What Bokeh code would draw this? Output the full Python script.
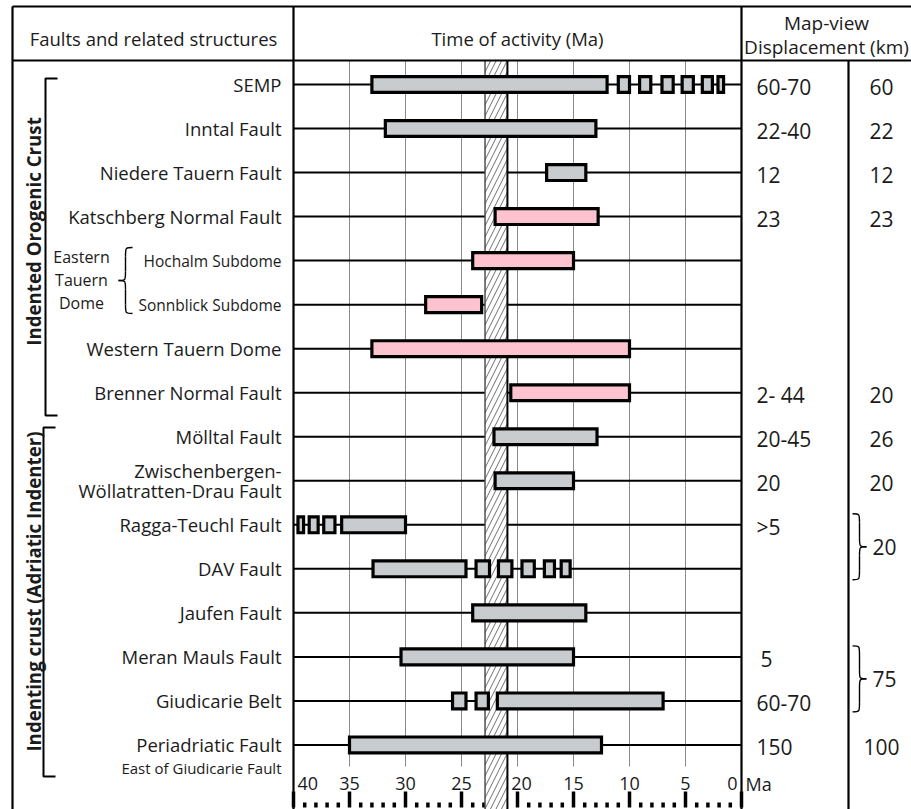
import numpy as np
from bokeh.plotting import figure
from bokeh.models import Range1d, ColumnDataSource
from bokeh.embed import file_html
from bokeh.resources import INLINE
from bokeh.core.properties import value

# ---------------- data ----------------
fault_names = ["SEMP", "Inntal Fault", "Niedere Tauern Fault", "Katschberg Normal Fault",
               "Hochalm Subdome", "Sonnblick Subdome", "Western Tauern Dome",
               "Brenner Normal Fault", "Mölltal Fault", "Zwischenbergen-",
               "Ragga-Teuchl Fault", "DAV Fault", "Jaufen Fault", "Meran Mauls Fault",
               "Giudicarie Belt", "Periadriatic Fault"]
fault_second_line = {9: "Wöllatratten-Drau Fault", 15: "East of Giudicarie Fault"}
fault_style = ["grey", "grey", "grey", "pink", "pink", "pink", "pink", "pink",
               "grey", "grey", "grey", "grey", "grey", "grey", "grey", "grey"]

# activity segments (Ma): index of fault, older limit, younger limit
seg_fault = [0, 0, 0, 0, 0, 0, 0,
             1, 2, 3, 4, 5, 6, 7, 8, 9,
             10, 10, 10, 10,
             11, 11, 11, 11, 11, 11,
             12, 13,
             14, 14, 14,
             15]
seg_old = [33.0, 11.0, 9.1, 7.1, 5.3, 3.5, 2.1,
           31.8, 17.4, 22.0, 24.0, 28.2, 33.0, 20.6, 22.1, 22.0,
           39.6, 38.6, 37.3, 35.7,
           32.9, 23.7, 21.7, 19.6, 17.6, 16.1,
           24.0, 30.4,
           25.8, 23.7, 21.8,
           35.0]
seg_young = [12.0, 10.0, 8.1, 6.1, 4.3, 2.6, 1.6,
             13.0, 13.9, 12.8, 15.0, 23.2, 10.0, 10.0, 12.9, 15.0,
             39.1, 37.8, 36.3, 30.0,
             24.6, 22.5, 20.5, 18.5, 16.7, 15.3,
             13.9, 15.0,
             24.6, 22.6, 7.0,
             12.5]

sync_band = (22.9, 20.9)          # hatched interval (Ma)

disp_range = ["60-70", "22-40", "12", "23", "", "", "", "2- 44", "20-45", "20",
              ">5", "", "", "5", "60-70", "150"]
disp_km = ["60", "22", "12", "23", "", "", "", "20", "26", "20",
           "", "", "", "", "", "100"]
disp_group_first = [10, 13]
disp_group_last = [11, 14]
disp_group_km = ["20", "75"]

group_names = ["Indented Orogenic Crust", "Indenting crust (Adriatic Indenter)"]

grid_ma = [35, 30, 25, 20, 15, 10, 5]
ruler_major = [40, 35, 30, 25, 20, 15, 10, 5, 0]
ruler_labels = ["40", "35", "30", "25", "20", "15", "10", "5", "0"]
ruler_minor = [m for m in range(1, 40) if m % 5 != 0]

# ---------------- layout helpers (reference pixels -> data) ----------------
ROW0, ROW_H = 84.0, 44.03
MA0_PX, PX_PER_MA = 741.0, 11.2
W, H = 911, 809


def X(px):
    return (MA0_PX - px) / PX_PER_MA


def Y(py):
    return (py - ROW0) / ROW_H


FONT = value("Open Sans")
INK = "#1b1b1b"

p = figure(width=W, height=H,
           x_range=Range1d(X(0), X(W)), y_range=Range1d(Y(H), Y(0)),
           output_backend="svg", toolbar_location=None,
           x_axis_location=None, y_axis_location=None,
           min_border=0, outline_line_color=None,
           background_fill_color="white", border_fill_color="white")
p.xgrid.visible = False
p.ygrid.visible = False

rows = list(range(len(fault_names)))

# vertical grid lines
p.segment(x0=grid_ma, y0=[Y(60)] * len(grid_ma), x1=grid_ma, y1=[Y(766)] * len(grid_ma),
          line_color="#8a8a8a", line_width=1)

# row lines
p.segment(x0=[40] * len(rows), y0=rows, x1=[0] * len(rows), y1=rows,
          line_color="black", line_width=2)

# bottom ruler
p.segment(x0=ruler_major, y0=[Y(791)] * len(ruler_major), x1=ruler_major,
          y1=[Y(807)] * len(ruler_major), line_color="black", line_width=3.5, line_cap="butt")
p.segment(x0=ruler_minor, y0=[Y(802)] * len(ruler_minor), x1=ruler_minor,
          y1=[Y(807)] * len(ruler_minor), line_color="black", line_width=3.5, line_cap="butt")

# hatched synchronous band
p.quad(left=[sync_band[0]], right=[sync_band[1]], top=[Y(60)], bottom=[Y(H)],
       fill_color="white", hatch_pattern="/", hatch_color="#6f6f6f", hatch_scale=11,
       hatch_weight=1, line_color=None)
p.segment(x0=[sync_band[0]], y0=[Y(60)], x1=[sync_band[0]], y1=[Y(H)],
          line_color="#444444", line_width=1.4)
p.segment(x0=[sync_band[1]], y0=[Y(60)], x1=[sync_band[1]], y1=[Y(H)],
          line_color="black", line_width=2)

# activity bars
colors = {"grey": "#c9cccf", "pink": "#fec3ce"}
half = 0.18
bars = ColumnDataSource(dict(
    left=seg_old, right=seg_young,
    top=[seg_fault[i] - half for i in range(len(seg_fault))],
    bottom=[seg_fault[i] + half for i in range(len(seg_fault))],
    fill=[colors[fault_style[f]] for f in seg_fault]))
p.quad(left="left", right="right", top="top", bottom="bottom", source=bars,
       fill_color="fill", line_color="black", line_width=3.2, line_join="miter")

# table frame
frame = [[(12, 6), (W, 6)], [(12, 60), (W, 60)], [(12, 6), (12, H)],
         [(293, 6), (293, H)], [(741, 6), (741, H)], [(848, 60), (848, H)]]
p.multi_line(xs=[[X(a[0]), X(b[0])] for a, b in frame],
             ys=[[Y(a[1]), Y(b[1])] for a, b in frame],
             line_color="black", line_width=2.2)

# group brackets on the left
brk = [[(57, 78), (45, 78), (45, 415), (57, 415)],
       [(55, 427), (43, 427), (43, 776), (55, 776)]]
p.multi_line(xs=[[X(q[0]) for q in b] for b in brk], ys=[[Y(q[1]) for q in b] for b in brk],
             line_color="black", line_width=2)


# curly braces
def brace(xe, xt, ytop, ybot):
    xs = (xe + xt) / 2.0
    ym = (ytop + ybot) / 2.0
    q = min(9.0, (ybot - ytop) / 4.0)
    bz = [((xe, ytop), (xs, ytop + q), (xs, ytop), (xs, ytop)),
          ((xs, ym - q), (xt, ym), (xs, ym), (xs, ym)),
          ((xt, ym), (xs, ym + q), (xs, ym), (xs, ym)),
          ((xs, ybot - q), (xe, ybot), (xs, ybot), (xs, ybot))]
    ln = [((xs, ytop + q), (xs, ym - q)), ((xs, ym + q), (xs, ybot - q))]
    return bz, ln


braces = [brace(132, 118, 247, 313)]
for f, l in zip(disp_group_first, disp_group_last):
    ym = ROW0 + ROW_H * (f + l) / 2.0
    braces.append(brace(852, 866, ym - 33, ym + 33))
B = [b for br in braces for b in br[0]]
L = [s for br in braces for s in br[1]]
p.bezier(x0=[X(b[0][0]) for b in B], y0=[Y(b[0][1]) for b in B],
         x1=[X(b[1][0]) for b in B], y1=[Y(b[1][1]) for b in B],
         cx0=[X(b[2][0]) for b in B], cy0=[Y(b[2][1]) for b in B],
         cx1=[X(b[3][0]) for b in B], cy1=[Y(b[3][1]) for b in B],
         line_color="black", line_width=1.4)
p.segment(x0=[X(s[0][0]) for s in L], y0=[Y(s[0][1]) for s in L],
          x1=[X(s[1][0]) for s in L], y1=[Y(s[1][1]) for s in L],
          line_color="black", line_width=1.4)

# ---------------- texts ----------------
# headers
p.text(x=[X(153), X(517)], y=[Y(38)] * 2,
       text=["Faults and related structures", "Time of activity (Ma)"],
       text_font=FONT, text_font_size="18.5px", text_align="center",
       text_baseline="middle", text_color=INK)
p.text(x=[X(826), X(826)], y=[Y(22), Y(46)], text=["Map-view", "Displacement (km)"],
       text_font=FONT, text_font_size="19px", text_align="center",
       text_baseline="middle", text_color=INK)

# fault names
big = [i for i in rows if fault_names[i] not in ("Hochalm Subdome", "Sonnblick Subdome")
       and i != 9]
p.text(x=[X(281)] * len(big), y=[rows[i] for i in big], text=[fault_names[i] for i in big],
       text_font=FONT, text_font_size="18.5px", text_align="right",
       text_baseline="middle", text_color=INK)
p.text(x=[X(281)] * 2, y=[9, 9], text=[fault_names[9], fault_second_line[9]],
       y_offset=[-10, 10], text_font=FONT, text_font_size="18.5px", text_align="right",
       text_baseline="middle", text_color=INK)
p.text(x=[X(281)], y=[15], text=[fault_second_line[15]], y_offset=23,
       text_font=FONT, text_font_size="15px", text_align="right",
       text_baseline="middle", text_color=INK)
p.text(x=[X(281)] * 2, y=[4, 5], text=[fault_names[4], fault_names[5]],
       text_font=FONT, text_font_size="15.5px", text_align="right",
       text_baseline="middle", text_color=INK)
p.text(x=[X(81)] * 3, y=[Y(256), Y(279), Y(302)], text=["Eastern", "Tauern", "Dome"],
       text_font=FONT, text_font_size="16px", text_align="center",
       text_baseline="middle", text_color=INK)

# rotated group labels
p.text(x=[X(33), X(33)], y=[Y(231), Y(591)], text=group_names, angle=np.pi / 2,
       text_font=FONT, text_font_size="18.7px", text_font_style="bold",
       text_align="center", text_baseline="middle", text_color=INK)

# displacement columns
r1 = [i for i in rows if disp_range[i]]
p.text(x=[X(756) if disp_range[i] != "5" else X(760) for i in r1], y=r1,
       text=[disp_range[i] for i in r1], y_offset=2,
       text_font=FONT, text_font_size="21px", text_align="left",
       text_baseline="middle", text_color=INK)
r2 = [i for i in rows if disp_km[i]]
p.text(x=[X(881)] * len(r2), y=r2, text=[disp_km[i] for i in r2], y_offset=2,
       text_font=FONT, text_font_size="21px", text_align="center",
       text_baseline="middle", text_color=INK)
p.text(x=[X(884)] * len(disp_group_km),
       y=[(f + l) / 2.0 for f, l in zip(disp_group_first, disp_group_last)],
       text=disp_group_km, text_font=FONT, text_font_size="21px", text_align="center",
       text_baseline="middle", text_color=INK)

# ruler labels
aligns = ["left" if t == "40" else ("right" if t == "0" else "center") for t in ruler_labels]
offs = [4 if t == "40" else (-4 if t == "0" else (4 if t == "20" else 0)) for t in ruler_labels]
p.text(x="x", y="y", text="t", text_align="a", x_offset="o",
       source=ColumnDataSource(dict(x=ruler_major, y=[Y(783)] * len(ruler_major),
                                    t=ruler_labels, a=aligns, o=offs)),
       text_font=FONT, text_font_size="18px", text_baseline="middle", text_color=INK)
p.text(x=[X(745)], y=[Y(783)], text=["Ma"], text_font=FONT, text_font_size="18px",
       text_align="left", text_baseline="middle", text_color=INK)

open("out.html", "w").write(file_html(p, INLINE))
